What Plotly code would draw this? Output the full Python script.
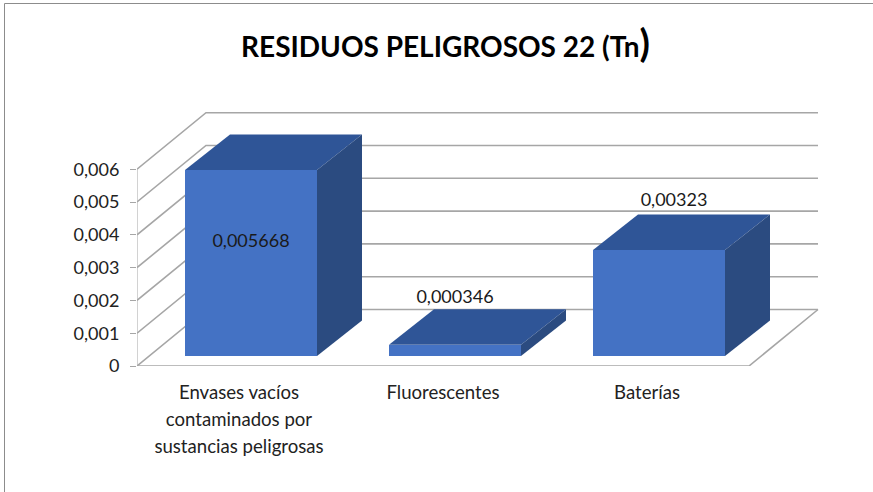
import plotly.graph_objects as go

categories = ["Envases vacíos<br>contaminados por<br>sustancias peligrosas", "Fluorescentes", "Baterías"]
values = [0.005668, 0.000346, 0.00323]
value_labels = ["0,005668", "0,000346", "0,00323"]
tick_values = [0, 0.001, 0.002, 0.003, 0.004, 0.005, 0.006]
tick_labels = ["0", "0,001", "0,002", "0,003", "0,004", "0,005", "0,006"]

# chart geometry (pixels of the 873x492 canvas)
W, H = 873, 492
L, R, T, B = 137, 48, 100, 126
PX_X = 204.0          # px per category
PX_Y = 32800.0        # px per unit of value
X0 = -0.5
xr = [X0, X0 + (W - L - R) / PX_X]
yr = [0, (H - T - B) / PX_Y]

# oblique projection offsets, in data units
wall_dx, wall_dy = 69 / PX_X, 56.5 / PX_Y
front_dx, front_dy = 12 / PX_X, 10 / PX_Y
bar_dx, bar_dy = 45 / PX_X, 35.5 / PX_Y
bar_w = 132 / PX_X

FONT = "Lato"
GRID = "#A6A6A6"
FRONT, TOP, SIDE = "#4472C4", "#2F5597", "#2B4B80"

fig = go.Figure()

def wall(xs, ys, width=1.6):
    fig.add_trace(go.Scatter(x=xs, y=ys, mode="lines", line=dict(color=GRID, width=width),
                             cliponaxis=False, hoverinfo="skip", showlegend=False))

x_end = X0 + 3
# left wall edges and back wall gridlines
for v in tick_values:
    wall([X0, X0 + wall_dx, x_end + wall_dx], [v, v + wall_dy, v + wall_dy])
# floor
wall([X0, x_end, x_end + wall_dx], [0, 0, wall_dy])
wall([X0, X0], [0, tick_values[-1]], 1)

# bars, on an overlay subplot so they sit above the walls
xs = [i + front_dx for i in range(len(values))]
fig.add_trace(go.Bar(x=xs, y=values, base=[front_dy] * len(values), width=bar_w,
                     marker=dict(color=FRONT, line=dict(width=0)), xaxis="x2", yaxis="y2",
                     showlegend=False, hoverinfo="skip"))

for xc, v in zip(xs, values):
    x1, x2 = xc - bar_w / 2, xc + bar_w / 2
    y0, y1 = front_dy, front_dy + v
    fig.add_trace(go.Scatter(
        x=[x1, x2, x2 + bar_dx, x1 + bar_dx, x1], y=[y1, y1, y1 + bar_dy, y1 + bar_dy, y1],
        mode="lines", fill="toself", fillcolor=TOP, line=dict(width=0), xaxis="x2", yaxis="y2",
        showlegend=False, hoverinfo="skip"))
    fig.add_trace(go.Scatter(
        x=[x2, x2 + bar_dx, x2 + bar_dx, x2, x2], y=[y0, y0 + bar_dy, y1 + bar_dy, y1, y0],
        mode="lines", fill="toself", fillcolor=SIDE, line=dict(width=0), xaxis="x2", yaxis="y2",
        showlegend=False, hoverinfo="skip"))

# data labels: first sits on the front face, others float above the bar
label_x = [xs[0], xs[1], xs[2] + 15 / PX_X]
label_y = [values[0] * 0.667, values[1] + 0.00172, values[2] + 0.0018]
fig.add_trace(go.Scatter(x=label_x, y=label_y, mode="text", text=value_labels,
                         textposition="middle center",
                         textfont=dict(family=FONT, size=18, color="#1a1a1a"),
                         xaxis="x2", yaxis="y2", showlegend=False, hoverinfo="skip", cliponaxis=False))

frame = "#8C8C8C"
CAT_SPAN = '<span style="font-size:18.6px">'
cat_text = [CAT_SPAN + c.replace("<br>", "</span><br>" + CAT_SPAN) + "</span>" for c in categories]
fig.update_layout(
    width=W, height=H, margin=dict(l=L, r=R, t=T, b=B),
    paper_bgcolor="white", plot_bgcolor="white", bargap=0,
    title=dict(text='RESIDUOS PELIGROSOS 22 (Tn<span style="font-size:38px">)</span>',
               x=445.5 / W, xanchor="center", y=1 - 47 / H, yanchor="middle",
               font=dict(family=FONT, size=28, color="black", weight="bold")),
    xaxis=dict(range=xr, tickmode="array", tickvals=list(range(len(categories))), ticktext=cat_text,
               showgrid=False, zeroline=False, showline=False, ticks="outside", ticklen=7,
               tickcolor="rgba(0,0,0,0)", tickangle=0,
               tickfont=dict(family=FONT, size=20.8, color="#222222")),
    yaxis=dict(range=yr, tickmode="array", tickvals=tick_values, ticktext=tick_labels,
               showgrid=False, zeroline=False, showline=False, ticks="outside", ticklen=6,
               ticklabelstandoff=7, tickcolor=GRID,
               tickfont=dict(family=FONT, size=18, color="#222222")),
    xaxis2=dict(range=xr, overlaying="x", visible=False),
    yaxis2=dict(range=yr, overlaying="y", visible=False),
    shapes=[
        dict(type="line", xref="paper", yref="paper",
             x0=(4.5 - L) / (W - L - R), x1=(4.5 - L) / (W - L - R),
             y0=(H - B - 3.5) / (H - T - B), y1=(H - B - H) / (H - T - B),
             line=dict(color=frame, width=1)),
        dict(type="line", xref="paper", yref="paper",
             x0=(4.5 - L) / (W - L - R), x1=(W - L) / (W - L - R),
             y0=(H - B - 3.5) / (H - T - B), y1=(H - B - 3.5) / (H - T - B),
             line=dict(color=frame, width=1)),
    ],
)

fig.write_html("out.html", config=dict(displayModeBar=False),
               post_script="document.body.style.margin='0';document.body.style.overflow='hidden';")
